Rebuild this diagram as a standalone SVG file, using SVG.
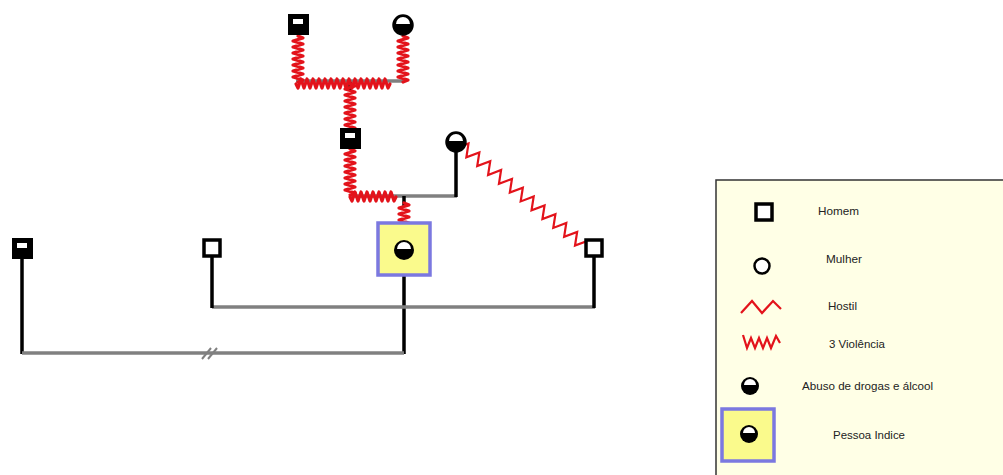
<svg xmlns="http://www.w3.org/2000/svg" width="1003" height="475" viewBox="0 0 1003 475">
<style>
.blk{stroke:#000;stroke-width:3.5;fill:none}
.gry{stroke:#808080;stroke-width:3.5;fill:none}
.vio{stroke:#e3131b;stroke-width:3.2;fill:none;stroke-linejoin:round;stroke-linecap:round}
.hos{stroke:#e3131b;stroke-width:2.2;fill:none}
.ms{fill:#000;stroke:#000;stroke-width:2}
.mw{fill:#fff;stroke:#000;stroke-width:3.5}
.ab{fill:#000}
.idx{fill:#fafa8c;stroke:#7b78e0;stroke-width:3.5}
.lt{font-family:"Liberation Sans",Arial,sans-serif;font-size:10.5px;fill:#222}
</style>
<rect width="1003" height="475" fill="#fff"/>
<g id="connectors">
<line class="gry" x1="296" y1="81" x2="404" y2="81"/>
<line class="blk" x1="350" y1="82" x2="350" y2="90"/>
<line class="gry" x1="350" y1="196" x2="457" y2="196"/>
<line class="blk" x1="456" y1="150" x2="456" y2="197"/>
<line class="blk" x1="404" y1="196" x2="404" y2="206"/>
<line class="blk" x1="404" y1="276" x2="404" y2="354"/>
<line class="gry" x1="212" y1="307" x2="595" y2="307"/>
<line class="blk" x1="212" y1="257" x2="212" y2="308"/>
<line class="blk" x1="594" y1="257" x2="594" y2="308"/>
<line class="blk" x1="22" y1="258" x2="22" y2="354"/>
<line class="gry" x1="22" y1="353" x2="404" y2="353"/>
<line stroke="#808080" stroke-width="2" x1="202" y1="359" x2="211" y2="348"/>
<line stroke="#808080" stroke-width="2" x1="208" y1="359" x2="217" y2="348"/>
<path class="vio" d="M298,36 l5,2 l-10,3 l10,3 l-10,3 l10,3 l-10,3 l10,3 l-10,3 l10,3 l-10,3 l10,3 l-10,3 l10,3 l-10,3 l10,3 l-5,2"/>
<path class="vio" d="M403,36 l5,2 l-10,3 l10,3 l-10,3 l10,3 l-10,3 l10,3 l-10,3 l10,3 l-10,3 l10,3 l-10,3 l10,3 l-10,3 l10,3 l-5,2"/>
<path class="vio" d="M296,84 l2,4 l3,-9 l3,9 l3,-9 l3,9 l3,-9 l3,9 l3,-9 l3,9 l3,-9 l3,9 l3,-9 l3,9 l3,-9 l3,9 l3,-9 l3,9 l3,-9 l3,9 l3,-9 l3,9 l3,-9 l3,9 l3,-9 l3,9 l3,-9 l3,9 l3,-9 l3,9 l3,-9 l3,9 l2,-4"/>
<path class="vio" d="M350,84 l5,2 l-10,3 l10,3 l-10,3 l10,3 l-10,3 l10,3 l-10,3 l10,3 l-10,3 l10,3 l-10,3 l10,3 l-10,3 l10,3 l-5,2"/>
<path class="vio" d="M350,149 l5,2 l-10,3 l10,3 l-10,3 l10,3 l-10,3 l10,3 l-10,3 l10,3 l-10,3 l10,3 l-10,3 l10,3 l-10,3 l10,3 l-5,2"/>
<path class="vio" d="M350,197 l2,4 l3,-9 l3,9 l3,-9 l3,9 l3,-9 l3,9 l3,-9 l3,9 l3,-9 l3,9 l3,-9 l3,9 l3,-9 l3,9 l2,-4"/>
<path class="vio" d="M404,203 l5,2 l-10,3 l10,3 l-10,3 l10,3 l-10,3 l10,3 l-5,2"/>
<path class="hos" transform="translate(462,146) rotate(39.1)" d="M0,0 l3.5,-6 l7,12 l7,-12 l7,12 l7,-12 l7,12 l7,-12 l7,12 l7,-12 l7,12 l7,-12 l7,12 l7,-12 l7,12 l7,-12 l7,12 l7,-12 l7,12 l7,-12 l7,12 l7,-12 l7,12 l7,-12 l3.5,6"/>
</g>
<g id="gf-man">
<rect class="ms" x="289" y="15" width="19" height="19"/>
<rect x="293" y="19" width="10" height="5" fill="#fff"/>
</g>
<g id="gf-woman">
<circle cx="403" cy="25" r="10" class="ab" stroke="#000" stroke-width="1.5"/>
<path d="M396,24 a7,7 0 0 1 14,0 z" fill="#fff"/>
</g>
<g id="father">
<rect class="ms" x="341" y="129" width="19" height="19"/>
<rect x="345" y="133" width="10" height="5" fill="#fff"/>
</g>
<g id="mother">
<circle cx="456" cy="142" r="10" class="ab" stroke="#000" stroke-width="1.5"/>
<path d="M449,141 a7,7 0 0 1 14,0 z" fill="#fff"/>
</g>
<g id="index">
<rect class="idx" x="378" y="223" width="52" height="52"/>
<circle cx="404" cy="250" r="10" class="ab"/>
<path d="M397,249 a7,7 0 0 1 14,0 z" fill="#fff"/>
</g>
<g id="stepfather">
<rect class="mw" x="586" y="240" width="16" height="16"/>
</g>
<g id="partner1">
<rect class="ms" x="13" y="239" width="19" height="19"/>
<rect x="17" y="243" width="10" height="5" fill="#fff"/>
</g>
<g id="partner2">
<rect class="mw" x="204" y="240" width="16" height="16"/>
</g>
<g id="legend">
<rect x="716" y="180" width="300" height="300" fill="#ffffe6" stroke="#333" stroke-width="1.5"/>
<rect class="mw" x="756" y="204" width="16" height="16" stroke-width="4"/>
<text class="lt" x="818" y="215" textLength="41" lengthAdjust="spacingAndGlyphs">Homem</text>
<circle cx="762" cy="266" r="7.5" fill="#fff" stroke="#000" stroke-width="2.5"/>
<text class="lt" x="826" y="263" textLength="36" lengthAdjust="spacingAndGlyphs">Mulher</text>
<path class="hos" stroke-width="2.5" d="M741,313 l11,-12 l10,12 l11,-12 l8,8"/>
<text class="lt" x="828" y="310" textLength="29" lengthAdjust="spacingAndGlyphs">Hostil</text>
<path class="hos" stroke-width="2.8" d="M743,335 l4,13 l4,-10 l4,10 l4,-10 l4,10 l4,-10 l4,10 l5,-12 l4,7"/>
<text class="lt" x="829" y="348" textLength="56" lengthAdjust="spacingAndGlyphs">3 Violência</text>
<circle cx="750" cy="386" r="9" class="ab"/>
<path d="M744,385 a6,6 0 0 1 12,0 z" fill="#fff"/>
<text class="lt" x="802" y="390" textLength="131" lengthAdjust="spacingAndGlyphs">Abuso de drogas e álcool</text>
<rect class="idx" x="722" y="409" width="52" height="52"/>
<circle cx="749" cy="434" r="9" class="ab"/>
<path d="M743,433 a6,6 0 0 1 12,0 z" fill="#fff"/>
<text class="lt" x="833" y="439" textLength="72" lengthAdjust="spacingAndGlyphs">Pessoa Indice</text>
</g>
</svg>
